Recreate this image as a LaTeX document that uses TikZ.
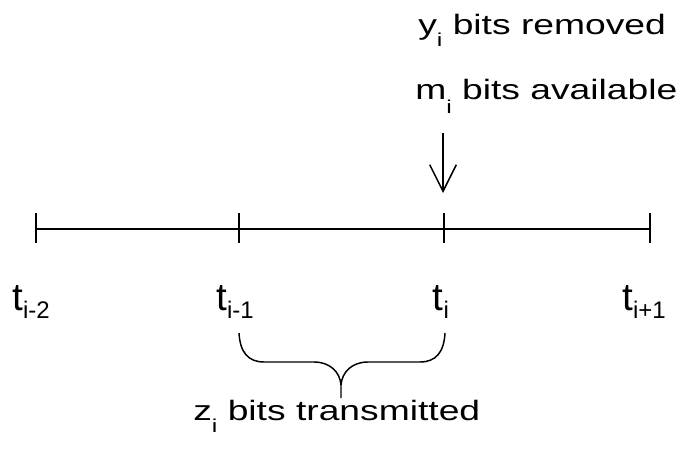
\documentclass[tikz,border=0pt]{standalone}
\usepackage{fontspec}
\setmainfont{Liberation Sans}
\newfontfamily\lblfont[FakeStretch=1.33]{Liberation Sans}
\usetikzlibrary{arrows.meta}
\newcommand\lowsub[3]{\raisebox{-#1}{\fontsize{#2}{#2}\selectfont #3}}
\begin{document}
\begin{tikzpicture}[x=0.75pt,y=-0.75pt,
  axis/.style={line width=1.5pt},
  thin/.style={line width=1.1pt},
  lbl/.style={inner sep=0,anchor=base west,font=\lblfont\fontsize{21pt}{21pt}\selectfont},
  tlbl/.style={inner sep=0,anchor=base,font=\fontsize{29pt}{29pt}\selectfont},
  ]
\useasboundingbox (0,0) rectangle (681,456);
% time axis
\coordinate (T0) at (36,229);
\coordinate (T1) at (239,229);
\coordinate (T2) at (444,229);
\coordinate (T3) at (650,229);
\draw[axis] (T0) -- (T3);
\foreach \n in {T0,T1,T2,T3}
  \draw[axis] ([yshift=12pt]\n) -- ([yshift=-10.5pt]\n);
% time labels
\node[tlbl] (L0) at (31,310) {t\lowsub{6pt}{18pt}{i-2}};
\node[tlbl] (L1) at (235,310) {t\lowsub{6pt}{18pt}{i-1}};
\node[tlbl] (L2) at (441,310) {t\lowsub{6pt}{18pt}{i}};
\node[tlbl] (L3) at (644,310) {t\lowsub{6pt}{18pt}{i+1}};
% top texts
\node[lbl] (Y) at (418,35) {y\lowsub{9pt}{14pt}{i} bits removed};
\node[lbl] (M) at (415,100) {m\lowsub{10pt}{14pt}{i} bits available};
% arrow
\coordinate (AS) at (443,133);
\coordinate (AT) at (443,193);
\draw[thin,-{Straight Barb[length=20pt,width=20pt,line width=1.1pt]}] (AS) -- (AT);
% brace
\coordinate (BL) at (239,333);
\coordinate (BR) at (445,333);
\coordinate (BT) at (341,398);
\draw[thin] (BL) .. controls (240,352) and (248,362) .. (264,362) -- (314,362)
  .. controls (330,362) and (340,372) .. (341,385) -- (BT);
\draw[thin] (BR) .. controls (444,352) and (436,362) .. (420,362) -- (368,362)
  .. controls (352,362) and (342,372) .. (341,385);
% bottom text
\node[lbl] (Z) at (193,420) {z\lowsub{9pt}{14pt}{i} bits transmitted};
\end{tikzpicture}
\end{document}
